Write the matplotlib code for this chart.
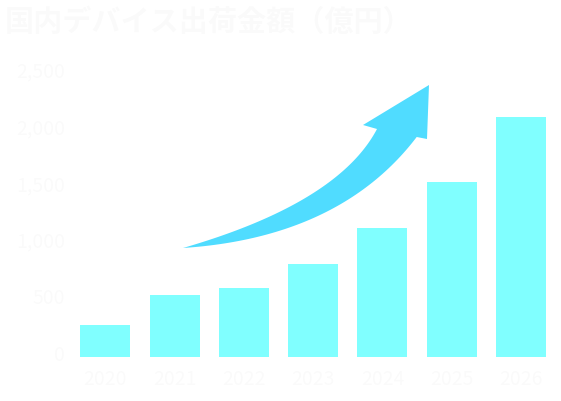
import numpy as np
import matplotlib.pyplot as plt
import matplotlib.transforms as mtransforms
from matplotlib.patches import Polygon

plt.rcParams['font.family'] = ['Noto Sans CJK JP', 'DejaVu Sans']

title = '国内デバイス出荷金額（億円）'
years = ['2020', '2021', '2022', '2023', '2024', '2025', '2026']
sales = [280, 545, 610, 820, 1135, 1540, 2120]
yticks = [0, 500, 1000, 1500, 2000, 2500]

bar_color = '#80FFFF'
arrow_color = '#50DCFF'
text_color = '#FAFAFA'

W, H = 561, 401
fig = plt.figure(figsize=(W / 100, H / 100), dpi=100)
ax = fig.add_axes([70.65 / W, 1 - 356.7 / H, (555.6 - 70.65) / W, (356.7 - 73.7) / H])
ax.patch.set_alpha(0)

x = np.arange(len(years))
ax.bar(x, sales, width=0.72, color=bar_color)
ax.set_xlim(-0.5, len(years) - 0.5)
ax.set_ylim(0, 2500)
ax.set_xticks(x)
ax.set_xticklabels(years)
ax.set_yticks(yticks)
ax.set_yticklabels(['{:,}'.format(v) for v in yticks])
ax.tick_params(length=0, colors=text_color, labelsize=14)
ax.tick_params(axis='x', pad=9)
ax.tick_params(axis='y', pad=4)
for s in ax.spines.values():
    s.set_visible(False)

# nudge y labels up a few pixels
shift = mtransforms.ScaledTranslation(0, 4 / 100, fig.dpi_scale_trans)
for lab in ax.get_yticklabels():
    lab.set_transform(lab.get_transform() + shift)


# curved arrow, built from two quadratic bezier edges (pixel coords)
def bez(p0, p1, p2, n=60):
    t = np.linspace(0, 1, n)[:, None]
    return (1 - t) ** 2 * np.array(p0) + 2 * (1 - t) * t * np.array(p1) + t ** 2 * np.array(p2)

upper = bez((183, 248), (338, 203), (377, 129))
lower = bez((183, 248), (340.15, 237.5), (416.7, 137))
head = np.array([(363, 125), (429, 85), (427, 139)])
pts = np.vstack([upper, head, lower[::-1]])
pts = np.column_stack([pts[:, 0] / W, 1 - pts[:, 1] / H])
fig.patches.append(Polygon(pts, closed=True, facecolor=arrow_color, edgecolor='none',
                           transform=fig.transFigure))

fig.text(5 / W, 1 - 22 / H, title, color=text_color, fontsize=21, fontweight='bold',
         ha='left', va='center')

fig.savefig('out.png', dpi=100, transparent=True)
